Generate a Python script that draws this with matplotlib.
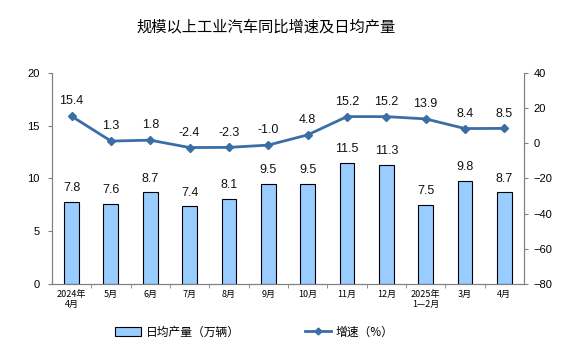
import matplotlib
matplotlib.use("Agg")
import matplotlib.pyplot as plt
from matplotlib.lines import Line2D
from matplotlib.patches import Patch

plt.rcParams['font.family'] = ['Liberation Sans', 'Noto Sans CJK SC', 'DejaVu Sans']

months = ["2024年\n4月", "5月", "6月", "7月", "8月", "9月", "10月", "11月",
          "12月", "2025年\n1—2月", "3月", "4月"]
daily_output = [7.8, 7.6, 8.7, 7.4, 8.1, 9.5, 9.5, 11.5, 11.3, 7.5, 9.8, 8.7]
growth = [15.4, 1.3, 1.8, -2.4, -2.3, -1.0, 4.8, 15.2, 15.2, 13.9, 8.4, 8.5]

BAR = "#99ccff"
LINE = "#3a6ea5"
AXIS = "#808080"
CJK = ['Noto Sans CJK SC', 'DejaVu Sans']

fig = plt.figure(figsize=(5.68, 3.47), dpi=100)
ax = fig.add_axes([0.0915, 0.1816, 0.831, 0.608])
ax2 = ax.twinx()

x = list(range(len(months)))
ax.bar(x, daily_output, width=0.38, color=BAR, edgecolor="black", linewidth=0.8, zorder=2)
for xi, v in zip(x, daily_output):
    ax.text(xi, v + 0.7, f"{v:.1f}", ha="center", va="bottom", fontsize=9, color="#111111")

ax2.plot(x, growth, color=LINE, linewidth=2, marker="D", markersize=4, zorder=3)
for xi, v in zip(x, growth):
    ax2.text(xi, v + 5, f"{v:.1f}", ha="center", va="bottom", fontsize=9, color="#111111")

ax.set_xlim(-0.5, len(months) - 0.5)
ax.set_ylim(0, 20)
ax.set_yticks([0, 5, 10, 15, 20])
ax2.set_ylim(-80, 40)
ax2.set_yticks(range(-80, 41, 20))

ax.set_xticks(x)
ax.set_xticklabels(months, family=CJK, fontsize=6.5)
ax.set_xticks([i + 0.5 for i in x[:-1]], minor=True)
ax.tick_params(axis="x", which="major", length=0, pad=4)
ax.tick_params(axis="x", which="minor", length=3, color=AXIS)
ax.tick_params(axis="y", length=3, color=AXIS, labelsize=8, pad=6)
ax2.tick_params(axis="y", length=3, color=AXIS, labelsize=8, pad=4)

for a in (ax, ax2):
    a.spines["top"].set_visible(False)
    for s in ("left", "right", "bottom"):
        a.spines[s].set_color(AXIS)
        a.spines[s].set_linewidth(0.8)

fig.text(266 / 568, 1 - 27 / 347, "规模以上工业汽车同比增速及日均产量",
         ha="center", va="center", fontsize=11, family=CJK)

handles = [Patch(facecolor=BAR, edgecolor="black", linewidth=0.8, label="日均产量（万辆）"),
           Line2D([0], [0], color=LINE, linewidth=2, marker="D", markersize=3.5, label="增速（%）")]
fig.legend(handles=handles, loc="center", bbox_to_anchor=(0.448, 1 - 332 / 347), ncol=2,
           frameon=False, prop={"family": CJK, "size": 8.5}, columnspacing=5.5,
           handlelength=2.2, handletextpad=0.4)

fig.savefig("out.png", dpi=100)
